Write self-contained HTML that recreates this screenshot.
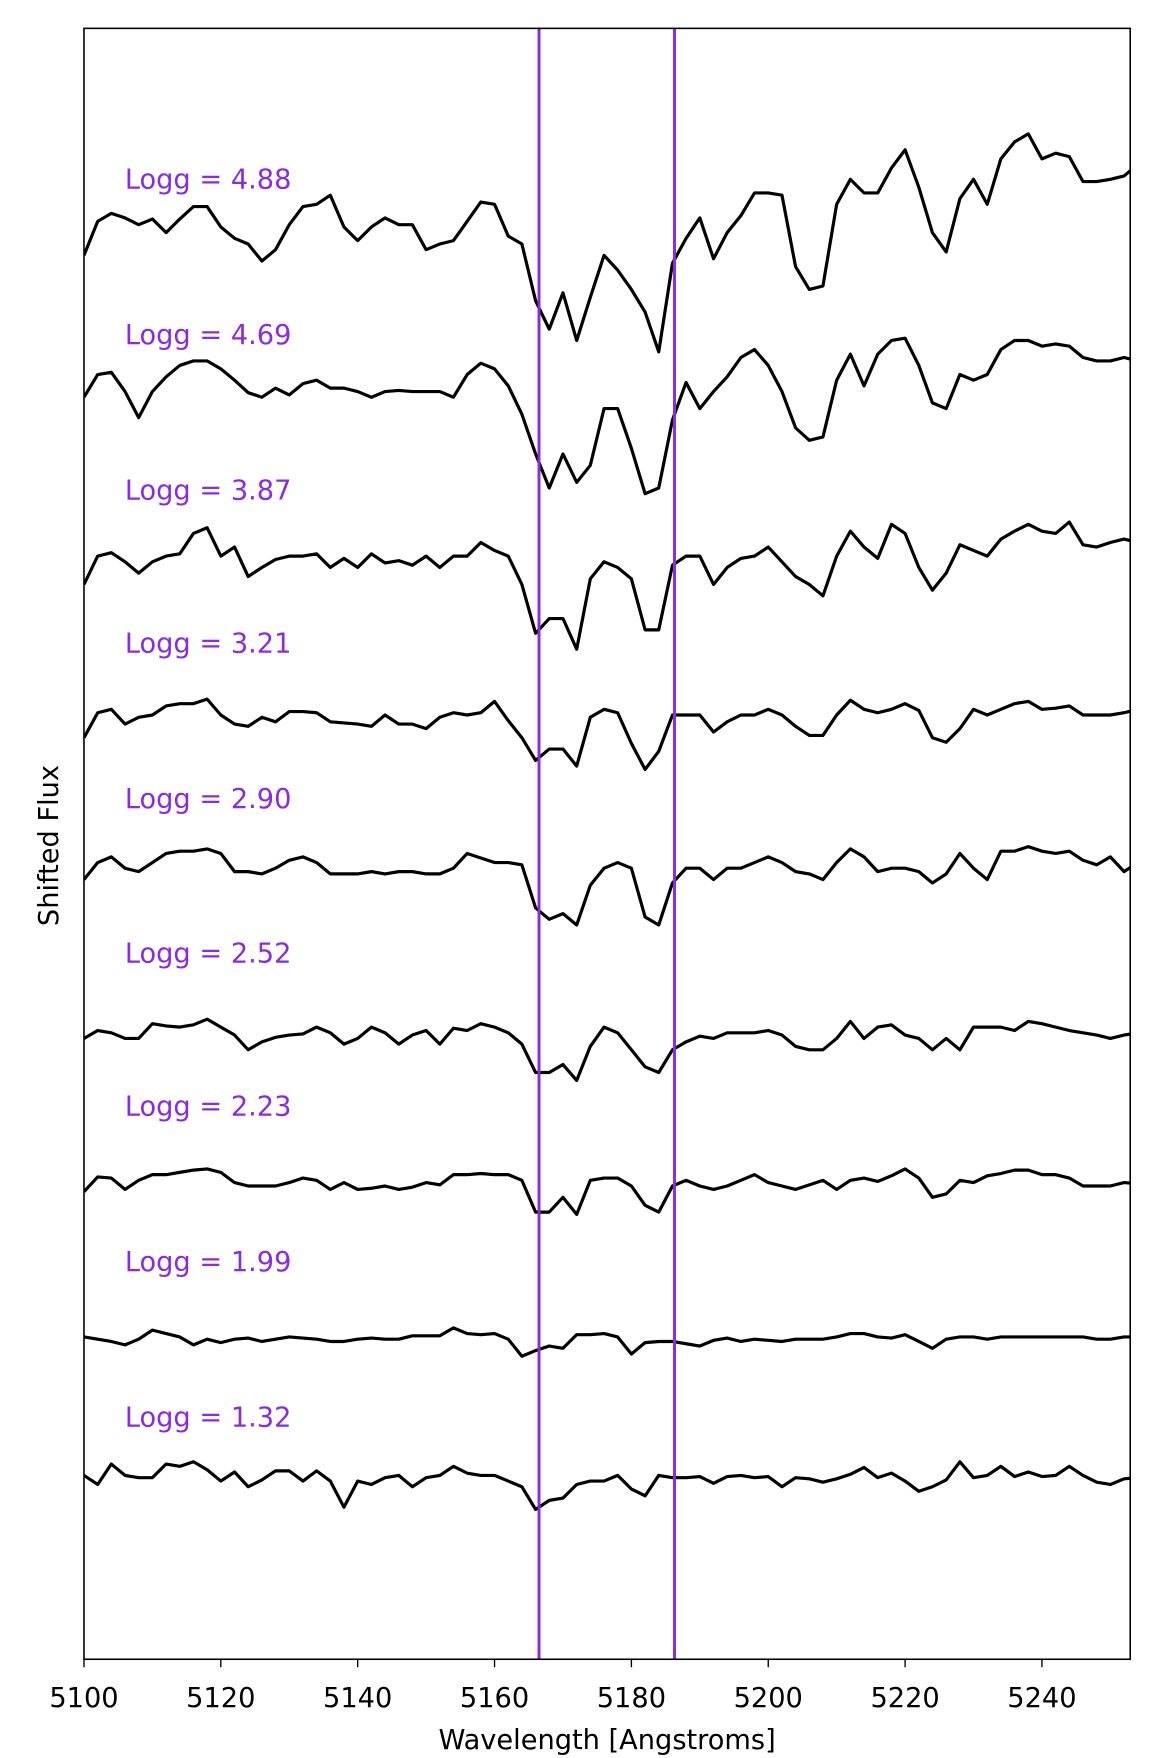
<!DOCTYPE html>
<html><head><meta charset="utf-8"><style>
html,body{margin:0;padding:0;background:#fff;}
svg{display:block;}
text{font-family:"DejaVu Sans","Liberation Sans",sans-serif;}
</style></head><body>
<svg id="chart" xmlns="http://www.w3.org/2000/svg" width="1162" height="1758" viewBox="0 0 1024 1549" preserveAspectRatio="none">
<defs><clipPath id="plotclip"><rect x="74" y="25" width="922" height="1437"/></clipPath></defs>
<rect x="0" y="0" width="1024" height="1549" fill="#fff"/>
<g id="series" clip-path="url(#plotclip)"></g>
<g id="vlines"></g>
<g id="labels"></g>
<rect x="74" y="25" width="922" height="1437" fill="none" stroke="#000" stroke-width="1.4"/>
<g id="xaxis"></g>
<text x="535" y="1541" font-size="24" text-anchor="middle">Wavelength [Angstroms]</text>
<text transform="translate(51,745) rotate(-90)" font-size="24" text-anchor="middle">Shifted Flux</text>
</svg>
<script>
const wavelengths=[5100,5102,5104,5106,5108,5110,5112,5114,5116,5118,5120,5122,5124,5126,5128,5130,5132,5134,5136,5138,5140,5142,5144,5146,5148,5150,5152,5154,5156,5158,5160,5162,5164,5166,5168,5170,5172,5174,5176,5178,5180,5182,5184,5186,5188,5190,5192,5194,5196,5198,5200,5202,5204,5206,5208,5210,5212,5214,5216,5218,5220,5222,5224,5226,5228,5230,5232,5234,5236,5238,5240,5242,5244,5246,5248,5250,5252,5254];
const loggLabels=["4.88","4.69","3.87","3.21","2.90","2.52","2.23","1.99","1.32"];
const labelFlux=[12.96,11.59,10.22,8.87,7.50,6.14,4.79,3.42,2.05];
const offsets=[12.62,11.22,9.72,8.32,6.97,5.52,4.22,2.82,1.62];
const s488=[-25,5,12,8,2,7,-5,7,18,18,0,-10,-15,-30,-20,2,18,20,28,0,-12,0,8,2,2,-20,-15,-12,5,22,20,-8,-15,-65,-90,-58,-100,-62,-25,-38,-55,-75,-110,-32,-10,8,-28,-5,10,30,30,28,-35,-55,-52,20,42,30,30,52,68,35,-5,-22,25,42,20,60,75,82,60,65,62,40,40,42,45,55];
const s469=[-10,10,12,-5,-28,-5,8,18,22,22,15,5,-6,-10,-2,-8,2,5,-2,-2,-5,-10,-5,-4,-5,-5,-5,-10,10,20,15,0,-25,-60,-90,-60,-85,-70,-20,-20,-55,-95,-90,-30,3,-20,-5,8,25,32,18,-5,-37,-48,-45,5,28,0,28,40,42,18,-15,-20,10,5,10,32,40,40,35,37,35,25,22,22,25,22];
const s387=[-25,0,3,-5,-15,-5,0,2,20,25,0,8,-18,-10,-3,0,0,2,-10,-2,-10,2,-6,-4,-8,0,-10,0,0,12,5,0,-25,-68,-55,-55,-82,-20,-5,-10,-20,-65,-65,-8,0,0,-25,-10,-2,0,8,-5,-18,-25,-35,0,22,8,-2,28,20,-10,-30,-15,10,5,0,15,22,28,22,20,30,10,8,12,15,12];
const s321=[-20,2,5,-8,-2,0,8,10,10,14,0,-8,-10,-2,-6,3,3,2,-6,-7,-8,-10,0,-8,-8,-12,-2,2,0,2,12,-5,-20,-40,-30,-30,-45,-2,5,2,-25,-48,-32,0,0,0,-15,-6,0,0,5,0,-10,-18,-18,0,13,5,2,5,10,4,-20,-24,-12,5,0,5,10,12,5,6,8,0,0,0,2,5];
const s290=[-10,5,10,0,-3,5,13,15,15,17,13,-3,-3,-5,0,7,10,5,-5,-5,-5,-3,-5,-3,-3,-5,-5,0,13,9,5,5,3,-35,-45,-40,-50,-15,0,5,0,-43,-50,-13,0,0,-10,0,0,5,10,5,-3,-5,-10,5,17,10,-3,0,0,-3,-13,-5,13,0,-10,15,15,19,15,13,15,7,3,10,-3,5];
const s252=[-5,2,0,-5,-5,8,6,5,7,12,5,-2,-15,-8,-4,-2,-1,5,0,-10,-5,5,0,-10,-2,2,-10,4,2,8,5,0,-10,-35,-35,-28,-42,-12,5,0,-15,-30,-35,-15,-8,-3,-5,0,0,0,2,-2,-12,-15,-15,-5,10,-5,5,7,-2,-5,-15,-5,-15,5,5,5,2,10,8,5,2,0,-2,-5,-2,0];
const s223=[-10,3,2,-8,0,5,5,7,9,10,7,-2,-5,-5,-5,-2,2,0,-8,-2,-8,-7,-5,-8,-6,-2,-4,5,5,6,5,5,0,-28,-28,-15,-30,0,2,2,-5,-22,-28,-5,0,-5,-8,-5,0,5,-2,-5,-8,-4,0,-8,0,2,-1,4,10,2,-15,-12,0,-2,4,6,9,9,5,5,2,-5,-5,-5,-2,-3];
const s199=[2,0,-2,-5,0,8,5,2,-5,0,-3,0,1,-2,0,2,1,0,-2,-2,0,1,0,0,3,3,3,10,5,4,5,0,-15,-10,-6,-8,4,4,5,2,-13,-3,-2,-2,-4,-6,-1,1,-2,0,-1,-2,0,0,0,2,5,5,2,1,4,-2,-8,0,2,2,0,2,2,2,2,2,2,2,0,0,2,2];
const s132=[0,-8,10,0,-2,-2,10,8,12,5,-5,3,-10,-4,4,4,-5,4,-5,-28,-5,-8,-2,0,-10,-2,0,8,2,0,0,-5,-10,-30,-22,-20,-8,-5,-5,0,-12,-18,0,-2,-2,-1,-7,-1,0,-2,-1,-10,-2,-3,-6,-3,1,7,-2,2,-5,-14,-10,-4,12,-2,0,8,-1,3,-1,0,8,0,-6,-8,-3,-2];
const seriesList=[s488,s469,s387,s321,s290,s252,s223,s199,s132];
const markerLines=[5166.5,5186.3];
const xTicks=[5100,5120,5140,5160,5180,5200,5220,5240];

const X0=74,X1=996,W0=5100,W1=5252.9,Y0=1462,PXPERFLUX=100;
function xScale(w){return X0+(w-W0)/(W1-W0)*(X1-X0);}
function yScale(f){return Y0-f*PXPERFLUX;}
const NS="http://www.w3.org/2000/svg";
const gS=document.getElementById('series');
seriesList.forEach(function(vals,i){
  let d="";
  vals.forEach(function(v,j){
    const f=offsets[i]+v/100;
    d+=(j?"L":"M")+xScale(wavelengths[j]).toFixed(1)+","+yScale(f).toFixed(1);
  });
  const p=document.createElementNS(NS,'path');
  p.setAttribute('d',d);
  p.setAttribute('fill','none');
  p.setAttribute('stroke','#000');
  p.setAttribute('stroke-width','2.8');
  p.setAttribute('stroke-linejoin','round');
  
  
  gS.appendChild(p);
});
const gL=document.getElementById('labels');
loggLabels.forEach(function(l,i){
  const t=document.createElementNS(NS,'text');
  t.setAttribute('x',110);
  t.setAttribute('y',yScale(labelFlux[i]).toFixed(1));
  t.setAttribute('font-size','24');
  t.setAttribute('fill','#8a2be2');
  t.textContent='Logg = '+l;
  
  
  gL.appendChild(t);
});
const gV=document.getElementById('vlines');
markerLines.forEach(function(w){
  const ln=document.createElementNS(NS,'line');
  ln.setAttribute('x1',xScale(w));ln.setAttribute('x2',xScale(w));
  ln.setAttribute('y1',25);ln.setAttribute('y2',1462);
  ln.setAttribute('stroke','#8a2be2');ln.setAttribute('stroke-width','2.6');
  
  
  gV.appendChild(ln);
});
const gX=document.getElementById('xaxis');
xTicks.forEach(function(w){
  const x=xScale(w);
  const tk=document.createElementNS(NS,'line');
  tk.setAttribute('x1',x);tk.setAttribute('x2',x);tk.setAttribute('y1',1462);tk.setAttribute('y2',1469);
  tk.setAttribute('stroke','#000');tk.setAttribute('stroke-width','1.2');
  
  
  gX.appendChild(tk);
  const t=document.createElementNS(NS,'text');
  t.setAttribute('x',x);t.setAttribute('y',1504);
  t.setAttribute('font-size','24');t.setAttribute('text-anchor','middle');
  t.textContent=String(w);
  
  
  gX.appendChild(t);
});
</script>
</body></html>
